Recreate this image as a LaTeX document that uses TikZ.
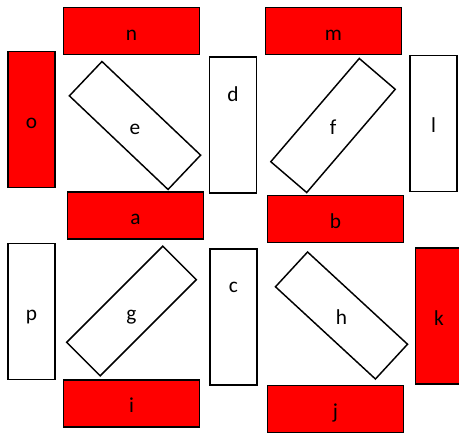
\documentclass[tikz,border=0pt]{standalone}
\usepackage{fontspec}
\setmainfont{Carlito}
\begin{document}
\begin{tikzpicture}[x=0.75pt,y=-0.75pt,
  box/.style={draw=black,line width=1.1pt,inner sep=0pt,outer sep=0pt,
    font=\fontsize{16}{19}\selectfont,text height=14pt,text depth=0pt},
  hbox/.style={box,minimum width=102pt,minimum height=35.5pt},
  vbox/.style={box,minimum width=35.5pt,minimum height=102pt},
  redbox/.style={fill=red},
  whitebox/.style={fill=white},
  lab/.style={inner sep=0pt,font=\fontsize{16}{19}\selectfont,text height=14pt,text depth=0pt}]
\useasboundingbox (0,0) rectangle (459,434);
% horizontal red boxes
\node[hbox,redbox] (n) at (131.5,31) {n};
\node[hbox,redbox] (m) at (333.5,31) {m};
\node[hbox,redbox] (a) at (135.5,215.5) {a};
\node[hbox,redbox] (b) at (335.5,219) {b};
\node[hbox,redbox] (i) at (131.5,403.5) {i};
\node[hbox,redbox] (j) at (335.5,409) {j};
% vertical boxes
\node[vbox,redbox] (o) at (31.5,119.5) {o};
\node[vbox,redbox] (k) at (439,316) {k};
\node[vbox,whitebox] (l) at (433.5,123.5) {l};
\node[vbox,whitebox] (p) at (31.5,311.5) {p};
\node[vbox,whitebox] (d) at (233,125) {};
\node[lab] (dlab) at (233,92) {d};
\node[vbox,whitebox] (c) at (233.5,317) {};
\node[lab] (clab) at (233.5,283) {c};
% rotated boxes
\node[hbox,whitebox,rotate=-43.5] (e) at (135,125.5) {};
\node[lab] (elab) at (e.center) {e};
\node[hbox,whitebox,rotate=49.4] (f) at (333,125.5) {};
\node[lab] (flab) at (f.center) {f};
\node[hbox,whitebox,rotate=45] (g) at (131.5,311) {};
\node[lab] (glab) at (g.center) {g};
\node[hbox,whitebox,rotate=-42.7] (h) at (341.5,315.5) {};
\node[lab] (hlab) at (h.center) {h};
\end{tikzpicture}
\end{document}
